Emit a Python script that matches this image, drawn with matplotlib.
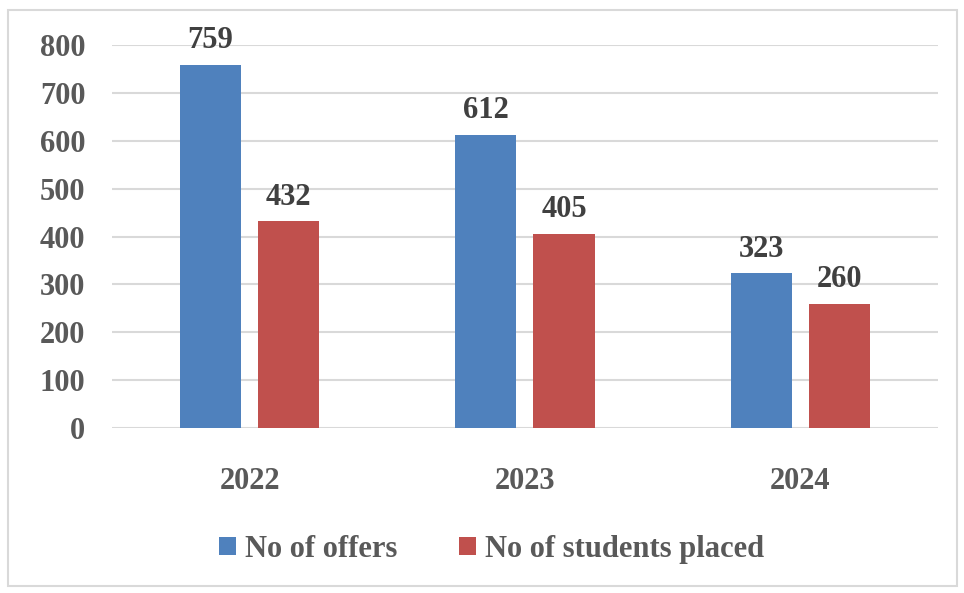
import numpy as np
import matplotlib.pyplot as plt
from matplotlib.patches import Rectangle

# Data
years = ['2022', '2023', '2024']
offers = [759, 612, 323]
placed = [432, 405, 260]
series_names = ['No of offers', 'No of students placed']
y_ticks = [0, 100, 200, 300, 400, 500, 600, 700, 800]

plt.rcParams['font.family'] = ['Liberation Serif', 'DejaVu Serif']
plt.rcParams['font.weight'] = 'bold'

fig = plt.figure(figsize=(9.64, 5.93), dpi=100)
ax = fig.add_axes([0.116, 0.278, 0.857, 0.646])

x = np.arange(len(years))
w = 0.222
off = 0.142
b1 = ax.bar(x - off, offers, w, color='#4F81BD', label=series_names[0], zorder=3)
b2 = ax.bar(x + off, placed, w, color='#C0504D', label=series_names[1], zorder=3)

for bars in (b1, b2):
    for rect in bars:
        h = rect.get_height()
        ax.annotate(f'{h:.0f}', (rect.get_x() + rect.get_width() / 2, h),
                    xytext=(0, 7), textcoords='offset points',
                    ha='center', va='bottom', fontsize=22, fontweight='bold',
                    color='#404040')

ax.set_xlim(-0.5, 2.5)
ax.set_ylim(0, 800)
ax.set_yticks(y_ticks)
ax.set_xticks(x)
ax.set_xticklabels(years)
ax.tick_params(axis='both', length=0, labelsize=22, labelcolor='#595959')
ax.tick_params(axis='x', pad=28)
ax.tick_params(axis='y', pad=19)
ax.grid(axis='y', color='#D9D9D9', linewidth=1.5, zorder=0)
for s in ax.spines.values():
    s.set_visible(False)

fig.legend(handles=[b1, b2], labels=series_names, loc='center',
           bbox_to_anchor=(0.51, 0.074), ncol=2, frameon=False,
           fontsize=22, handlelength=0.55, handleheight=0.55,
           handletextpad=0.3, columnspacing=2.0, labelcolor='#595959')

# light border around the whole chart
fig.patches.append(Rectangle((8 / 964, 1 - 586 / 593), 949 / 964, 576 / 593,
                             transform=fig.transFigure, fill=False,
                             edgecolor='#D9D9D9', linewidth=1.5))

fig.savefig('out.png', dpi=100)
